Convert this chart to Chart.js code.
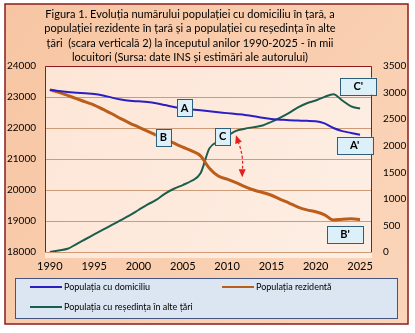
<!DOCTYPE html>
<html>
<head>
<meta charset="utf-8">
<script src="https://cdn.jsdelivr.net/npm/chart.js@4.4.1/dist/chart.umd.min.js"></script>
<style>
  html, body { margin: 0; padding: 0; background: #fff; }
  #wrap { width: 415px; height: 333px; }
</style>
</head>
<body>
<div id="wrap"><canvas id="chart" width="415" height="333"></canvas></div>
<script>
// ani
const years = [];
for (let y = 1990; y <= 2025; y++) years.push(y);

// Populația cu domiciliu (mii locuitori, scara 1)
const domiciliu = [23230, 23190, 23160, 23140, 23120, 23100, 23050, 22980, 22920, 22880,
  22860, 22840, 22800, 22740, 22680, 22630, 22600, 22570, 22540, 22510,
  22480, 22450, 22420, 22380, 22330, 22290, 22270, 22250, 22240, 22230,
  22220, 22150, 22000, 21900, 21840, 21780];

// Populația rezidentă (mii locuitori, scara 1)
const rezidenta = [23240, 23150, 23050, 22950, 22840, 22740, 22600, 22460, 22300, 22160,
  22030, 21900, 21770, 21640, 21510, 21380, 21260, 21100, 20700, 20450,
  20350, 20240, 20110, 20000, 19920, 19830, 19700, 19580, 19450, 19360,
  19300, 19200, 19030, 19060, 19070, 19050];

// Populația cu reședința în alte țări (mii, scara 2)
const resedinta = [0, 30, 60, 150, 240, 330, 420, 510, 600, 690,
  790, 890, 980, 1100, 1190, 1260, 1340, 1480, 1950, 2080,
  2180, 2280, 2320, 2350, 2380, 2450, 2530, 2620, 2720, 2800,
  2850, 2920, 2970, 2850, 2740, 2700];

const xTicks = [1990, 1995, 2000, 2005, 2010, 2015, 2020, 2025];
const leftTicks = [18000, 19000, 20000, 21000, 22000, 23000, 24000];
const rightTicks = [0, 500, 1000, 1500, 2000, 2500, 3000, 3500];

const titleLines = [
  "Figura 1. Evoluția numărului populației cu domiciliu în țară, a",
  "populației rezidente în țară și a populației cu reședința în alte",
  "țări  (scara verticală 2) la începutul anilor 1990-2025 - în mii",
  "locuitori (Sursa: date INS și estimări ale autorului)"
];

// etichete A, B, C ... (an, valoare pe scara 1)
const labels = [
  { t: "A", x: 2005.2, y: 22660 },
  { t: "B", x: 2002.8, y: 21700 },
  { t: "C", x: 2009.5, y: 21730 },
  { t: "A'", x: 2024.4, y: 21440 },
  { t: "B'", x: 2023.3, y: 18580 },
  { t: "C'", x: 2024.8, y: 23350 }
];

const FONT = "Lato, 'Open Sans', sans-serif";

const pts = arr => arr.map((v, i) => ({ x: years[i], y: v }));

// fundal, titlu, legenda, etichete
const decor = {
  id: "decor",
  beforeDraw(chart) {
    const ctx = chart.ctx, a = chart.chartArea;
    ctx.save();
    let g = ctx.createLinearGradient(0, 0, 415, 333);
    g.addColorStop(0, "#f7c5a2");
    g.addColorStop(1, "#fbd6bb");
    ctx.fillStyle = g;
    ctx.fillRect(5, 4, 403, 320);
    ctx.strokeStyle = "#8c1c1c";
    ctx.lineWidth = 1.5;
    ctx.strokeRect(5, 4, 403, 320);
    g = ctx.createLinearGradient(a.left, a.top, a.right, a.bottom);
    g.addColorStop(0, "#fde6d6");
    g.addColorStop(1, "#fdeee4");
    ctx.fillStyle = g;
    ctx.fillRect(a.left, a.top, a.right - a.left, a.bottom - a.top + 6);
    ctx.restore();
  },
  afterDatasetsDraw(chart) {
    const ctx = chart.ctx, a = chart.chartArea;
    const sx = chart.scales.x, sy = chart.scales.y;
    ctx.save();
    // chenar zona grafic
    ctx.strokeStyle = "#8c1c1c";
    ctx.lineWidth = 1;
    ctx.beginPath();
    ctx.moveTo(a.left + 0.5, a.bottom);
    ctx.lineTo(a.left + 0.5, a.top + 0.5);
    ctx.lineTo(a.right - 0.5, a.top + 0.5);
    ctx.lineTo(a.right - 0.5, a.bottom);
    ctx.stroke();

    // sageata rosie
    const x1 = sx.getPixelForValue(2011.0), y1 = sy.getPixelForValue(21765);
    const x2 = sx.getPixelForValue(2011.7), y2 = sy.getPixelForValue(20410);
    ctx.strokeStyle = "#e02020";
    ctx.fillStyle = "#e02020";
    ctx.lineWidth = 1.2;
    ctx.setLineDash([3, 2]);
    ctx.beginPath();
    ctx.moveTo(x1 + 2, y1 + 6);
    ctx.quadraticCurveTo(x2 + 2, (y1 + y2) / 2, x2, y2 - 6);
    ctx.stroke();
    ctx.setLineDash([]);
    const head = (tx, ty, dx, dy) => {
      const L = Math.hypot(dx, dy), ux = dx / L, uy = dy / L;
      ctx.beginPath();
      ctx.moveTo(tx, ty);
      ctx.lineTo(tx - ux * 8 - uy * 3.5, ty - uy * 8 + ux * 3.5);
      ctx.lineTo(tx - ux * 8 + uy * 3.5, ty - uy * 8 - ux * 3.5);
      ctx.closePath();
      ctx.fill();
    };
    head(x1, y1, -2, -6);
    head(x2, y2, 0, 6);

    // etichete
    ctx.font = "bold 11px " + FONT;
    ctx.textAlign = "center";
    ctx.textBaseline = "middle";
    labels.forEach(l => {
      const cx = sx.getPixelForValue(l.x), cy = sy.getPixelForValue(l.y);
      const w = l.t.length > 1 ? 36 : 15, h = 17;
      ctx.fillStyle = "#dcf0fa";
      ctx.fillRect(cx - w / 2, cy - h / 2, w, h);
      ctx.strokeStyle = "#2c5f7c";
      ctx.lineWidth = 1;
      ctx.strokeRect(Math.round(cx - w / 2) + 0.5, Math.round(cy - h / 2) + 0.5, w, h);
      ctx.fillStyle = "#000";
      ctx.fillText(l.t, cx, cy + 0.5);
    });
    ctx.restore();
  },
  afterDraw(chart) {
    const ctx = chart.ctx;
    ctx.save();
    // titlu
    ctx.font = "11px " + FONT;
    ctx.fillStyle = "#000";
    ctx.textAlign = "center";
    ctx.textBaseline = "middle";
    titleLines.forEach((t, i) => ctx.fillText(t, 190, 14 + i * 14.6));

    // legenda
    ctx.fillStyle = "#dce6f2";
    ctx.fillRect(15, 278, 382, 40);
    ctx.strokeStyle = "#44557f";
    ctx.lineWidth = 1;
    ctx.strokeRect(15.5, 278.5, 382, 40);
    const pos = [[30, 287], [222, 287], [30, 307]];
    ctx.font = "9px " + FONT;
    ctx.textAlign = "left";
    chart.data.datasets.forEach((ds, i) => {
      const [lx, ly] = pos[i];
      ctx.strokeStyle = ds.borderColor;
      ctx.lineWidth = 2;
      ctx.beginPath();
      ctx.moveTo(lx, ly);
      ctx.lineTo(lx + 32, ly);
      ctx.stroke();
      ctx.fillStyle = "#000";
      ctx.fillText(ds.label, lx + 34, ly);
    });
    ctx.restore();
  }
};

new Chart(document.getElementById("chart").getContext("2d"), {
  type: "line",
  data: {
    datasets: [
      { label: "Populația cu domiciliu", data: pts(domiciliu), yAxisID: "y",
        borderColor: "#2a1fc4", borderWidth: 2 },
      { label: "Populația rezidentă", data: pts(rezidenta), yAxisID: "y",
        borderColor: "#bb5e1c", borderWidth: 3 },
      { label: "Populația cu reședința în alte țări", data: pts(resedinta), yAxisID: "y2",
        borderColor: "#1b5e4e", borderWidth: 2 }
    ]
  },
  options: {
    responsive: false,
    animation: false,
    devicePixelRatio: 1,
    layout: { padding: { top: 66, bottom: 0, left: 0, right: 0 } },
    elements: { point: { radius: 0 }, line: { tension: 0.3, cubicInterpolationMode: "monotone" } },
    plugins: { legend: { display: false }, title: { display: false }, tooltip: { enabled: false } },
    scales: {
      x: {
        type: "linear", min: 1989.45, max: 2026.35,
        afterBuildTicks: s => { s.ticks = xTicks.map(v => ({ value: v })); },
        afterFit: s => { s.height = 333 - 252; },
        grid: { display: false, drawTicks: false },
        border: { display: false },
        ticks: { callback: v => String(v), color: "#000", font: { family: FONT, size: 11 }, padding: 8, maxRotation: 0 }
      },
      y: {
        position: "left", min: 18000, max: 24000,
        afterBuildTicks: s => { s.ticks = leftTicks.map(v => ({ value: v })); },
        afterFit: s => { s.width = 45; },
        grid: { color: "#cf9a76", drawTicks: false },
        border: { display: false },
        ticks: { callback: v => String(v), color: "#000", font: { family: FONT, size: 10 }, padding: 9 }
      },
      y2: {
        position: "right", min: 0, max: 3500,
        afterBuildTicks: s => { s.ticks = rightTicks.map(v => ({ value: v })); },
        afterFit: s => { s.width = 415 - 372; },
        grid: { display: false, drawTicks: false },
        border: { display: false },
        ticks: { callback: v => String(v), color: "#000", font: { family: FONT, size: 10 }, padding: 11 }
      }
    }
  },
  plugins: [decor]
});
</script>
</body>
</html>
